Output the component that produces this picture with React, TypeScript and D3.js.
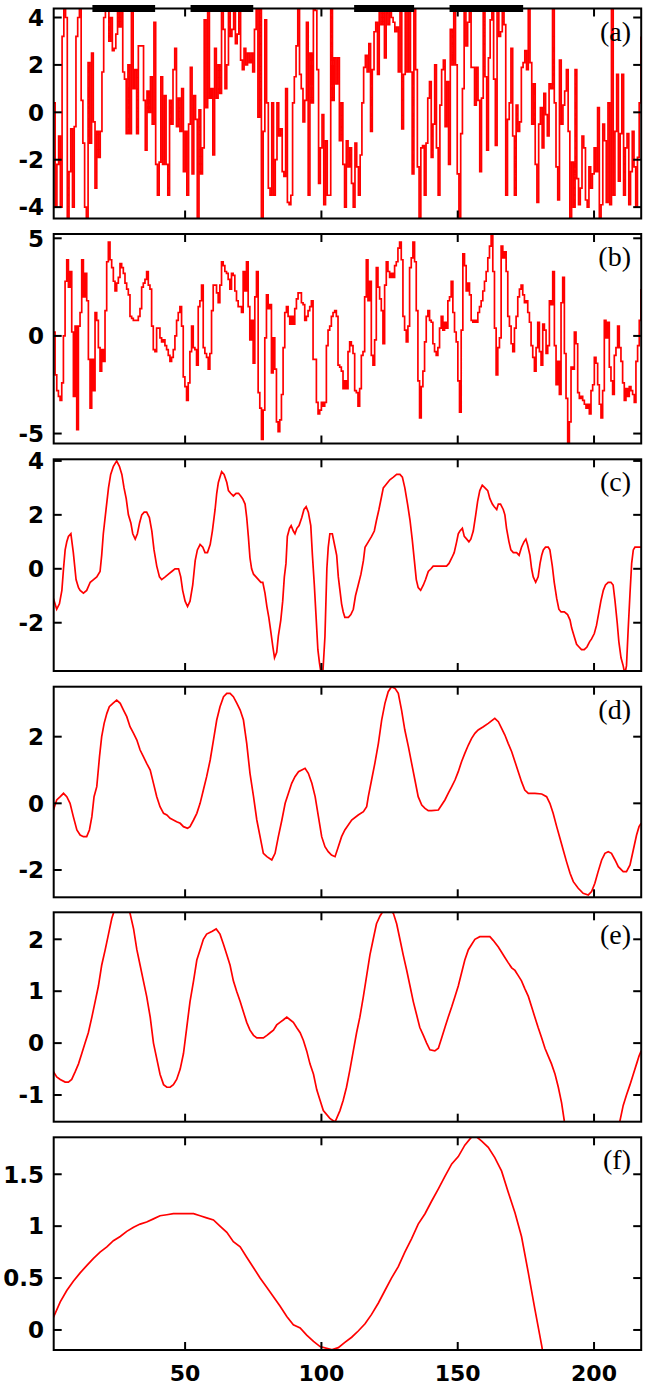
import React from 'react';
import * as d3 from 'd3';

// ---------- data ----------
const xTicks = [50, 100, 150, 200];

const aTicks = [-4, -2, 0, 2, 4];
const bTicks = [-5, 0, 5];
const cTicks = [-2, 0, 2, 4];
const dTicks = [-2, 0, 2];
const eTicks = [-1, 0, 1, 2];
const fTicks = [0, 0.5, 1, 1.5];

// black bars on top of panel (a): [start, end] in x units
const aBars: [number, number][] = [[16, 39], [52, 75], [112, 134], [147, 174]];

// panel (a): evenly sampled values
const seriesA = [
  0.4, -4.0, -2.2, -1.0, -4.0, 3.2, 4.4, 4.0, -4.5,
  -2.5, -0.7, -4.0, -0.6, 3.2, 4.0, 4.4, 0.5, -1.3, -4.0, -4.5,
  2.1, -1.3, 2.5, -0.4, -3.2, -0.8, -1.9, -0.8, 1.7,
  4.0, 4.4, 4.4, 3.0, 4.0, 2.6, 2.7, 3.3, 4.4, 3.6, 4.4, 1.7, 1.4,
  -0.9, 2.0, -0.9, 4.4, 1.0, 1.8, -0.9, 2.8, 2.8,
  2.8, 0.5, -1.6, 0.9, 0.0, 1.5, -0.5, 3.8, -2.2,
  -3.5, -2.1, 1.5, -2.2, 0.7, -2.2, -3.5, 0.5, -0.5,
  1.8, 2.7, -0.6, 0.6, -0.8, 1.0, -2.5, -0.8, -3.5, -0.5, 1.9, -2.6,
  0.7, -0.3, -4.5, 0.1, -2.6, -1.5, 3.9, 0.2, 4.4, 0.6, 1.0, -1.8, 2.7,
  0.6, 2.0, 0.8, 4.4, 3.5, 1.0, 2.0, 4.4, 3.2, 3.5, 4.4, 2.9, 3.3,
  4.4, 2.2, 1.8, 2.7, 2.0, 2.5, 2.1, 2.5, 1.7, 3.5, 4.4,
  -0.2, 4.4, -4.5, -0.8, 3.9, 0.4, -3.2, -3.5, 0.4, -3.5, -2.0,
  0.4, -1.0, -0.7, -2.5, -2.7, 1.0, -3.8, -3.9, -3.5, 0.4, 1.5, 2.8,
  4.4, 1.6, 1.0, -0.4, 0.5, 3.8, -3.5, 2.5, 0.4, 4.4, 4.3, 1.8, -3.0, -1.5,
  -0.1, -3.9, -1.2, -3.5, -3.5,
  4.4, 0.5, 2.3, 1.2, 2.3, -1.2, 0.4, -2.2, -4.0,
  -1.2, -2.3, -1.5, -3.0, -4.0, -1.3, -2.3, -3.5, -1.8, 0.4, 1.9,
  2.4, 1.7, 2.9, -0.8, 1.8, 3.4, 3.8, 1.6, 4.4, 3.7, 4.4, 2.3,
  4.2, 3.7, 4.4, 4.0, 3.8, 3.4, 3.6, 1.7, 4.4, -0.7, 1.6, 4.4,
  1.7, 4.4, 1.7, -2.6, 4.4, 1.8, -2.3, -4.5, -1.5, -1.4, -3.5,
  -1.3, 0.6, 1.3, -1.9, -0.5, 2.0, -1.5, -3.5, 0.3, 1.8, 2.2, -0.6,
  1.3, -2.2, 3.5, 2.0, 4.4, 2.0, -2.6, -4.5, -0.9, 1.0, 4.4, 2.8,
  3.8, 4.4, 1.9, 1.9, 0.3, 1.9, 0.5, -2.5, 0.6, 4.4, 1.5, -1.6, 2.3,
  3.9, 4.4, 1.4, -1.4, 4.4, 3.2, 3.4, 4.4, 3.7, -3.5, -0.3, 0.4, 2.7,
  -1.0, -3.5, 0.3, -0.8, -0.4, 1.9, 2.1, 2.6, 1.8, 4.4, 2.1, -0.5, 1.2,
  -2.2, -3.8, -0.5, 0.2, -1.5, 0.8, -0.1, -1.0, 1.2, 1.0, 4.4, 0.4,
  -2.3, -3.7, 2.2, -0.5, 0.3, 0.9, 1.8, -0.8, -4.5, -2.1, -4.0, 1.8, -2.8, -3.9,
  -3.2, -1.0, -1.5, -3.7, -4.0, -2.3, -3.2, -2.6, -1.5, -2.5, 0.2, -4.5,
  -3.9, -0.5, -1.2, -3.8, 0.4, -3.9, 4.4, -3.5, -0.8, 1.6, -2.9, -0.9,
  1.6, -3.5, -1.5, -0.9, -3.9, -2.5, -0.8, -2.3, -4.0, -1.9, 0.4, 3.2,
];

// panel (b): evenly sampled values
const seriesB = [
  0.2, -2.0, -2.8, -3.1, -3.3, -2.4, 0.0, 2.8, 3.9, 2.5, 3.3, 0.2, -3.1, 0.5, -4.8, 0.5,
  1.2, 3.9, 2.0, 3.2, 1.8, -1.2, -3.7, -1.2, -2.8, 1.2, 0.8, -0.6, -1.8, -0.7, -1.3, 1.3,
  3.8, 4.8, 3.9, 3.5, 2.8, 2.3, 2.7, 3.0, 3.7, 3.5, 3.2, 2.7, 2.4, 2.1, 1.0, 0.9,
  0.8, 0.8, 0.8, 1.0, 1.4, 2.5, 2.7, 2.9, 3.3, 2.6, 2.4, 0.5, -0.7, -0.8, 0.4, 0.4,
  -0.1, -0.3, -0.2, -0.5, -0.7, -1.0, -1.3, -1.1, -0.7, 0.0, 0.8, 1.2, 1.5, 0.5, -2.1, -2.6,
  -3.3, -2.4, -0.8, 0.5, -0.6, -0.7, -1.5, 1.5, 1.8, 2.6, -0.6, -0.9, -1.1, -1.7, -0.9, 1.3,
  2.6, 2.6, 2.2, 1.7, 2.6, 3.8, 3.6, 3.3, 3.2, 2.9, 2.4, 3.2, 3.1, 2.3, 1.8, 1.5,
  1.5, 1.2, 3.3, 2.3, 3.8, 1.5, -0.2, 0.8, -1.4, 2.0, 3.3, -2.9, -3.7, -5.3, -3.8, -0.1,
  2.1, 1.4, 1.6, -1.9, -0.1, -1.7, -4.4, -4.9, -4.3, -3.0, -0.6, 1.2, 1.5, 1.0, 0.6, 1.0,
  0.6, 1.4, 1.9, 2.2, 2.2, 1.7, 1.6, 0.8, 1.0, 1.3, 1.5, 1.8, -1.2, -1.2, -3.4, -4.0,
  -3.8, -3.4, -3.6, -3.4,
  -0.5, 0.3, 0.5, 1.0, 1.2, 1.3, 1.0, -1.5, -1.6, -1.8, -2.7, -2.3, -2.7, -0.8, -0.3, -0.5,
  -0.9, -2.8, -2.9, -3.6, -2.7, -1.0, -0.8, 2.0, 3.9, 1.8, 2.8, -1.0, -1.5, -0.2, 3.5, 2.5,
  1.9, 1.3, -0.4, 2.6, 3.8, 3.3, 3.0, 3.2, 3.0, 3.6, 3.8, 4.5, 4.8, 3.9, 1.0, 0.3,
  -0.3, 0.5, 3.5, 4.0, 4.8, 3.8, 1.3, -2.3, -4.2, -2.6, -1.8, -0.3, 1.0, 1.3, 0.8, 0.7,
  -0.4, -0.8, -1.0, -0.6, 0.4, 1.0, 0.3, 0.7, 0.4, 1.8, 2.0, 2.8, 1.2, 0.2, -0.3, -2.3,
  -3.9, 0.3, 4.2, 3.6, 2.3, 2.7, 2.1, 0.8, 0.7, 0.8, 0.7, 1.2, 1.5, 1.8, 2.3, 2.8,
  3.3, 4.0, 4.6, 5.2, 3.3, 0.4, -2.0, -0.6, -0.1, 4.6, 4.0, 4.3, 3.3, 1.0, 0.5, -0.4,
  -0.8, 0.4, 1.0, 2.0, 2.4, 2.6, 2.1, 1.7, 1.8, 1.2, 0.7, -0.5, -1.1, -1.8, -0.6, 0.7,
  -0.8, -1.5, 0.6, 0.3, -0.9, -0.5, 1.8, 1.6, 3.3, -0.5, -2.5, -1.3, -3.0, 1.7, 3.0, -0.9,
  -3.2, -5.5, -4.4, -1.6, -1.7, 0.2, -0.4, -2.9, -3.2, -3.1, -3.3, -3.5, -3.7, -3.5, -4.0, -2.8,
  -2.5, -1.1, -1.4, -2.5, -3.5, -4.2, -2.8, 0.8, -0.1, 0.7, -1.6, -2.3, -3.0, -1.0, -0.6, 0.5,
  -0.6, -1.3, -2.4, -3.3, -2.7, -3.1, -2.6, -2.8, -3.0, -3.4, -1.3, -0.5, 0.8, 2.4,
];

// panels (c)-(f): [x, value] readings
const seriesC: [number, number][] = [
  [1.7, -1.1], [2.9, -1.5], [3.9, -1.3], [4.8, -0.8], [5.4, 0], [6.0, 0.7], [6.6, 1.0], [7.2, 1.2],
  [8.1, 1.3], [9.0, 0.6], [10.0, -0.4], [10.9, -0.7], [11.5, -0.8], [12.7, -0.9], [13.9, -0.8],
  [15.2, -0.5], [16.4, -0.4], [17.6, -0.3], [18.8, -0.1], [19.4, 0.5], [20.0, 1.3], [21.0, 2.2],
  [21.9, 3.0], [22.7, 3.5], [23.7, 3.8], [24.9, 4.0], [25.9, 3.8], [26.8, 3.5], [27.6, 3.0],
  [28.4, 2.6], [29.2, 2.0], [30.1, 1.7], [30.8, 1.3], [31.7, 1.1], [32.5, 1.3], [33.3, 1.7],
  [34.1, 2.0], [35.0, 2.1], [35.9, 2.1], [36.9, 1.9], [37.8, 1.4], [38.6, 0.7], [39.6, 0.1],
  [40.6, -0.3], [41.4, -0.4], [42.7, -0.3], [43.9, -0.2], [45.1, -0.1], [46.3, 0], [47.6, 0],
  [48.4, -0.3], [49.1, -0.8], [50.0, -1.2], [50.9, -1.4], [51.8, -1.2], [52.8, -0.6], [53.7, 0.3],
  [54.5, 0.7], [55.5, 0.9], [56.5, 0.8], [57.3, 0.6], [58.2, 0.6], [59.2, 0.9], [60.0, 1.4],
  [61.0, 2.2], [61.6, 2.8], [62.2, 3.2], [62.8, 3.4], [63.4, 3.6], [64.3, 3.5], [65.3, 3.2],
  [65.9, 2.9], [66.7, 2.8], [67.7, 2.7], [68.7, 2.8], [69.6, 2.8], [70.4, 2.7], [71.1, 2.6],
  [72.0, 2.4], [72.6, 1.9], [73.2, 1.2], [73.8, 0.4], [74.4, 0], [75.1, -0.2], [76.0, -0.3],
  [76.9, -0.4], [77.8, -0.5], [78.5, -0.5], [79.3, -0.9], [80.0, -1.4], [80.7, -1.8], [81.4, -2.3],
  [82.2, -2.9], [82.8, -3.3], [83.6, -3.1], [84.2, -2.5], [85.1, -1.9], [85.8, -1.2], [86.4, -0.3],
  [87.0, 0.2], [87.5, 1.2], [88.3, 1.5], [88.9, 1.6], [89.7, 1.4], [90.3, 1.3], [91.0, 1.5],
  [91.8, 1.6], [92.8, 1.9], [93.6, 2.2], [94.4, 2.3], [95.2, 2.1], [96.1, 1.6], [96.7, 0.5],
  [97.4, -0.6], [98.0, -1.7], [98.7, -3.0], [99.3, -3.5], [99.9, -3.9], [100.5, -3.9],
  [101.3, -2.5], [102.0, 0.0], [102.5, 0.8], [103.1, 1.3], [104.0, 1.3], [105.0, 0.8], [105.6, 0.5],
  [106.2, -0.3], [106.8, -0.8], [107.4, -1.3], [108.0, -1.6], [108.6, -1.8], [109.9, -1.8],
  [110.8, -1.7], [111.7, -1.5], [112.5, -1.0], [113.5, -0.6], [114.5, -0.2], [115.4, 0.3],
  [116.0, 0.8], [117.2, 1.0], [118.4, 1.2], [119.4, 1.4], [120.2, 1.8], [121.1, 2.2], [122.1, 2.7],
  [122.7, 3.0], [123.5, 3.1], [124.3, 3.2], [125.1, 3.3], [126.4, 3.4], [127.6, 3.5], [128.8, 3.5],
  [129.7, 3.4], [130.6, 3.0], [131.6, 2.4], [132.5, 1.8], [133.3, 1.1], [134.1, 0.3], [134.8, -0.4],
  [135.5, -0.7], [136.4, -0.8], [137.4, -0.6], [138.2, -0.4], [139.2, -0.1], [140.2, 0.0],
  [141.0, 0.1], [142.3, 0.1], [143.5, 0.1], [144.7, 0.1], [145.9, 0.1], [146.8, 0.2], [147.8, 0.4],
  [148.7, 0.6], [149.6, 1.0], [150.2, 1.3], [150.8, 1.4], [151.7, 1.5], [152.4, 1.2], [153.3, 1.1],
  [154.1, 1.0], [154.8, 1.1], [155.7, 1.4], [156.6, 2.0], [157.3, 2.5], [158.1, 2.9], [159.0, 3.1],
  [160.0, 3.0], [161.0, 2.9], [161.8, 2.6], [162.7, 2.4], [163.4, 2.3], [164.3, 2.2], [164.9, 2.4],
  [165.7, 2.4], [166.7, 2.2], [167.3, 2.0], [167.9, 1.5], [168.8, 1.0], [169.5, 0.7], [170.4, 0.6],
  [171.6, 0.6], [172.5, 0.5], [173.4, 0.8], [174.3, 1.0], [175.0, 1.1], [175.6, 0.9], [176.5, 0.5],
  [177.1, 0.0], [177.7, -0.3], [178.6, -0.5], [179.5, -0.3], [180.2, 0.2], [180.8, 0.5],
  [181.4, 0.7], [182.2, 0.8], [183.2, 0.8], [183.8, 0.7], [184.7, 0.1], [185.4, -0.5],
  [186.3, -1.1], [187.1, -1.5], [187.9, -1.6], [189.1, -1.6], [190.3, -1.7], [191.2, -1.9],
  [191.8, -2.2], [192.7, -2.5], [193.6, -2.8], [194.5, -2.9], [195.4, -3.0], [196.4, -3.0],
  [197.4, -2.9], [198.4, -2.7], [199.1, -2.6], [200.1, -2.4], [200.9, -2.1], [201.8, -1.6],
  [202.5, -1.2], [203.4, -0.8], [204.2, -0.6], [205.2, -0.5], [206.2, -0.5], [207.0, -0.6],
  [207.7, -1.2], [208.5, -2.0], [209.1, -2.7], [209.9, -3.3], [210.7, -3.6], [211.3, -3.9],
  [211.9, -3.6], [212.5, -2.3], [213.2, -0.9], [213.8, 0.2], [214.4, 0.7], [215.0, 0.8],
  [216.2, 0.8], [217.3, 0.8],
];

const seriesD: [number, number][] = [
  [1.7, -0.2], [2.9, 0.1], [4.2, 0.2], [5.4, 0.3], [6.6, 0.2], [7.8, 0.0], [9.0, -0.4], [10.3, -0.8],
  [11.5, -0.95], [12.7, -1.0], [13.9, -1.0], [14.9, -0.8], [15.8, -0.4], [16.6, 0.2], [17.6, 0.5],
  [18.6, 1.4], [19.4, 2.0], [20.3, 2.4], [21.3, 2.7], [22.2, 2.9], [23.5, 3.0], [24.9, 3.1],
  [26.2, 3.0], [27.4, 2.8], [28.6, 2.6], [29.8, 2.3], [31.1, 2.1], [32.3, 1.9], [33.5, 1.6],
  [34.7, 1.4], [35.9, 1.2], [37.2, 1.0], [38.4, 0.6], [39.6, 0.2], [40.8, -0.1], [42.1, -0.3],
  [43.3, -0.35], [44.5, -0.45], [45.7, -0.5], [46.9, -0.55], [48.2, -0.6], [49.4, -0.7],
  [50.9, -0.75], [51.8, -0.7], [53.1, -0.5], [54.3, -0.3], [55.5, 0.0], [56.7, 0.4], [57.9, 0.8],
  [59.2, 1.3], [60.4, 1.9], [61.6, 2.5], [62.8, 2.9], [64.1, 3.2], [65.3, 3.3], [66.5, 3.3],
  [67.7, 3.2], [69.0, 3.0], [70.2, 2.8], [71.4, 2.5], [72.6, 1.8], [73.8, 0.9], [75.1, 0.2],
  [76.3, -0.5], [77.5, -1.0], [78.7, -1.5], [80.0, -1.6], [81.8, -1.7], [83.0, -1.5], [84.2, -1.0],
  [85.5, -0.5], [86.7, 0.0], [87.9, 0.3], [89.1, 0.6], [90.3, 0.8], [91.6, 0.95], [92.8, 1.0],
  [94.0, 1.05], [95.2, 0.9], [96.5, 0.6], [97.7, 0.2], [98.9, -0.4], [100.1, -1.0], [101.3, -1.3],
  [102.5, -1.45], [103.7, -1.55], [105.0, -1.6], [106.2, -1.3], [107.4, -1.0], [108.6, -0.8],
  [111.1, -0.5], [113.5, -0.35], [115.4, -0.25], [116.6, -0.1], [117.2, 0.2], [118.4, 0.7],
  [119.6, 1.2], [120.9, 1.8], [122.1, 2.5], [123.3, 3.0], [124.5, 3.35], [125.7, 3.5],
  [127.0, 3.45], [128.2, 3.3], [129.4, 2.8], [130.6, 2.2], [131.9, 1.7], [133.1, 1.2],
  [134.3, 0.7], [135.5, 0.2], [136.8, -0.05], [138.0, -0.15], [139.2, -0.22], [140.4, -0.22],
  [142.9, -0.2], [144.1, -0.05], [145.3, 0.1], [146.5, 0.3], [147.8, 0.5], [149.0, 0.7],
  [150.2, 0.95], [151.4, 1.25], [152.6, 1.5], [153.9, 1.75], [155.1, 1.95], [156.3, 2.1],
  [157.5, 2.2], [159.4, 2.3], [161.2, 2.4], [163.6, 2.55], [164.9, 2.45], [166.1, 2.25],
  [167.3, 2.05], [168.5, 1.8], [169.8, 1.55], [171.0, 1.25], [172.2, 0.95], [173.4, 0.65],
  [174.6, 0.4], [175.9, 0.3], [178.3, 0.3], [180.8, 0.28], [182.6, 0.2], [183.8, 0.0],
  [185.0, -0.3], [186.3, -0.7], [187.5, -1.05], [188.7, -1.4], [189.9, -1.75], [191.2, -2.1],
  [192.4, -2.35], [194.2, -2.55], [196.0, -2.7], [197.9, -2.75], [199.1, -2.65], [200.3, -2.4],
  [201.5, -2.05], [202.8, -1.7], [204.0, -1.5], [205.2, -1.45], [206.4, -1.5], [207.7, -1.7],
  [208.9, -1.9], [210.7, -2.05], [211.9, -2.05], [213.2, -1.85], [214.4, -1.4], [215.6, -0.95],
  [216.5, -0.7], [217.3, -0.6],
];

const seriesE: [number, number][] = [
  [1.7, -0.55], [2.9, -0.65], [4.2, -0.7], [6.0, -0.75], [7.2, -0.75], [8.4, -0.7], [9.7, -0.55],
  [10.9, -0.4], [12.1, -0.2], [13.3, 0.0], [14.5, 0.2], [15.8, 0.5], [17.0, 0.8], [18.2, 1.1],
  [19.4, 1.5], [20.7, 1.8], [21.9, 2.1], [23.1, 2.4], [24.3, 2.6], [26.2, 2.75], [28.0, 2.7],
  [29.8, 2.5], [31.1, 2.2], [32.3, 1.8], [33.5, 1.5], [34.7, 1.2], [35.9, 0.9], [37.2, 0.5],
  [38.4, 0.0], [39.6, -0.3], [40.8, -0.6], [42.1, -0.8], [43.3, -0.85], [44.5, -0.85], [45.7, -0.8],
  [46.9, -0.7], [48.2, -0.5], [49.4, -0.2], [50.6, 0.3], [51.8, 0.8], [53.1, 1.2], [54.3, 1.6],
  [55.5, 1.8], [56.7, 2.0], [57.9, 2.1], [59.8, 2.15], [61.4, 2.2], [62.8, 2.1], [64.1, 1.9],
  [65.3, 1.7], [66.5, 1.5], [67.7, 1.2], [68.9, 1.0], [70.2, 0.8], [71.4, 0.6], [72.6, 0.4],
  [73.8, 0.25], [75.1, 0.15], [76.3, 0.1], [78.7, 0.1], [80.0, 0.15], [81.2, 0.2], [82.4, 0.25],
  [83.6, 0.35], [84.8, 0.4], [86.1, 0.45], [87.3, 0.5], [88.5, 0.45], [89.7, 0.4], [90.9, 0.3],
  [92.2, 0.2], [93.4, 0.05], [94.6, -0.15], [95.8, -0.4], [97.1, -0.6], [98.3, -0.9], [99.5, -1.1],
  [100.7, -1.3], [103.1, -1.45], [105.0, -1.52], [106.8, -1.3], [108.0, -1.1], [109.2, -0.85],
  [110.5, -0.5], [111.7, -0.15], [112.9, 0.2], [114.1, 0.5], [115.4, 0.9], [116.6, 1.3],
  [117.8, 1.7], [119.0, 2.0], [120.2, 2.3], [121.5, 2.45], [122.7, 2.55], [124.5, 2.6],
  [126.4, 2.5], [127.6, 2.3], [128.8, 2.0], [130.0, 1.7], [131.3, 1.4], [132.5, 1.1], [133.7, 0.8],
  [134.9, 0.55], [136.1, 0.3], [137.4, 0.15], [138.6, 0.0], [139.8, -0.13], [141.6, -0.15],
  [142.9, -0.1], [144.1, 0.1], [145.3, 0.3], [146.5, 0.5], [147.8, 0.7], [149.0, 0.9], [150.2, 1.1],
  [151.4, 1.35], [152.6, 1.6], [153.9, 1.8], [155.1, 1.9], [156.3, 2.0], [158.1, 2.05],
  [160.0, 2.05], [161.8, 2.05], [163.0, 1.98], [164.9, 1.85], [166.1, 1.75], [167.3, 1.65],
  [168.5, 1.55], [169.8, 1.45], [171.0, 1.4], [172.2, 1.3], [173.4, 1.2], [174.6, 1.05],
  [175.9, 0.9], [177.1, 0.7], [178.3, 0.5], [179.5, 0.3], [180.8, 0.1], [182.0, -0.1],
  [183.2, -0.25], [184.4, -0.4], [185.7, -0.6], [186.9, -0.85], [188.1, -1.15], [189.1, -1.5],
  [191.0, -1.9], [194.0, -2.3], [197.0, -2.4], [200.0, -2.3], [203.0, -2.1], [206.0, -1.8],
  [209.5, -1.5], [210.7, -1.2], [211.9, -1.0], [213.2, -0.8], [214.4, -0.6], [215.6, -0.4],
  [216.5, -0.25], [217.3, -0.15],
];

const seriesF: [number, number][] = [
  [1.7, 0.12], [4.2, 0.27], [6.6, 0.38], [9.0, 0.47], [11.5, 0.55], [13.9, 0.62], [16.4, 0.69],
  [18.8, 0.75], [21.3, 0.8], [23.7, 0.86], [26.2, 0.9], [28.6, 0.95], [31.1, 0.99], [33.5, 1.02],
  [35.9, 1.04], [38.4, 1.07], [40.8, 1.1], [43.3, 1.11], [45.7, 1.12], [49.4, 1.12], [53.1, 1.12],
  [55.5, 1.1], [57.9, 1.08], [60.4, 1.06], [62.8, 1.0], [65.3, 0.94], [67.7, 0.85], [70.2, 0.8],
  [72.6, 0.7], [75.1, 0.6], [77.5, 0.5], [80.0, 0.41], [82.4, 0.32], [84.8, 0.23], [87.3, 0.13],
  [89.7, 0.05], [92.2, 0.02], [94.6, -0.05], [97.1, -0.11], [99.5, -0.16], [103.7, -0.19],
  [106.2, -0.17], [108.6, -0.12], [111.1, -0.07], [113.5, -0.01], [116.0, 0.06], [118.4, 0.15],
  [120.9, 0.26], [123.3, 0.38], [125.7, 0.5], [128.2, 0.61], [130.6, 0.75], [133.1, 0.88],
  [135.5, 1.02], [138.0, 1.12], [140.4, 1.24], [142.9, 1.36], [145.3, 1.48], [147.8, 1.6],
  [150.2, 1.67], [152.6, 1.78], [155.1, 1.86], [156.9, 1.86], [158.8, 1.82], [161.2, 1.76],
  [163.6, 1.66], [166.1, 1.53], [168.5, 1.33], [171.0, 1.13], [173.4, 0.9], [175.9, 0.55],
  [178.3, 0.2], [180.8, -0.15], [183.0, -0.5], [186.0, -0.9], [190.0, -1.4],
];

// ---------- layout ----------
const W = 650;
const H = 1386;
const X0 = 53.7;
const X1 = 641.2;
const xScale = d3.scaleLinear().domain([1.8, 217.3]).range([X0, X1]);

const uniform = (vals: number[]): [number, number][] => {
  const idx = d3.scaleLinear().domain([0, vals.length - 1]).range([1.7, 217.2]);
  return vals.map((v, i) => [idx(i), v]);
};

type Panel = {
  key: string;
  label: string;
  top: number;
  bottom: number;
  domain: [number, number];
  ticks: number[];
  pts: [number, number][];
  curve: any;
};

const panels: Panel[] = [
  { key: 'a', label: '(a)', top: 8.5, bottom: 218.5, domain: [-4.48, 4.38], ticks: aTicks, pts: uniform(seriesA), curve: d3.curveStepAfter },
  { key: 'b', label: '(b)', top: 234, bottom: 443.5, domain: [-5.51, 5.22], ticks: bTicks, pts: uniform(seriesB), curve: d3.curveStepAfter },
  { key: 'c', label: '(c)', top: 459.3, bottom: 671, domain: [-3.79, 4.06], ticks: cTicks, pts: seriesC, curve: d3.curveLinear },
  { key: 'd', label: '(d)', top: 686.7, bottom: 897.3, domain: [-2.82, 3.5], ticks: dTicks, pts: seriesD, curve: d3.curveLinear },
  { key: 'e', label: '(e)', top: 912.3, bottom: 1121.7, domain: [-1.514, 2.52], ticks: eTicks, pts: seriesE, curve: d3.curveLinear },
  { key: 'f', label: '(f)', top: 1137.3, bottom: 1350, domain: [-0.193, 1.856], ticks: fTicks, pts: seriesF, curve: d3.curveLinear },
];

const TICK = 8;
const tickFont = '"DejaVu Sans", sans-serif';

function PanelView({ p, last }: { p: Panel; last: boolean }) {
  const y = d3.scaleLinear().domain(p.domain).range([p.bottom, p.top]);
  const line = d3
    .line<[number, number]>()
    .x((d) => xScale(d[0]))
    .y((d) => y(d[1]))
    .curve(p.curve);
  const clipId = `clip-${p.key}`;
  return (
    <g>
      <defs>
        <clipPath id={clipId}>
          <rect x={X0} y={p.top} width={X1 - X0} height={p.bottom - p.top} />
        </clipPath>
      </defs>
      <path d={line(p.pts) || ''} fill="none" stroke="#ff0000" strokeWidth={1.7} clipPath={`url(#${clipId})`} />
      <rect x={X0} y={p.top} width={X1 - X0} height={p.bottom - p.top} fill="none" stroke="#000" strokeWidth={2} />
      {p.ticks.map((t) => (
        <g key={`y${t}`}>
          <line x1={X0} x2={X0 + TICK} y1={y(t)} y2={y(t)} stroke="#000" strokeWidth={2} />
          <line x1={X1 - TICK} x2={X1} y1={y(t)} y2={y(t)} stroke="#000" strokeWidth={2} />
          <text
            x={44}
            y={y(t)}
            dy="0.36em"
            textAnchor="end"
            fontFamily={tickFont}
            fontWeight="bold"
            fontSize={23}
            fill="#000"
          >
            {String(t)}
          </text>
        </g>
      ))}
      {xTicks.map((t) => (
        <g key={`x${t}`}>
          <line x1={xScale(t)} x2={xScale(t)} y1={p.top} y2={p.top + TICK} stroke="#000" strokeWidth={2} />
          <line x1={xScale(t)} x2={xScale(t)} y1={p.bottom - TICK} y2={p.bottom} stroke="#000" strokeWidth={2} />
          {last && (
            <text
              x={xScale(t)}
              y={1381}
              textAnchor="middle"
              fontFamily={tickFont}
              fontWeight="bold"
              fontSize={22}
              fill="#000"
            >
              {String(t)}
            </text>
          )}
        </g>
      ))}
      {p.key === 'a' &&
        aBars.map(([s, e]) => (
          <rect key={`bar${s}`} x={xScale(s)} y={p.top - 3.5} width={xScale(e) - xScale(s)} height={7} fill="#000" />
        ))}
      <text
        x={631}
        y={p.top + 32}
        textAnchor="end"
        fontFamily='"Liberation Serif", "DejaVu Serif", serif'
        fontSize={28}
        fill="#000"
      >
        {p.label}
      </text>
    </g>
  );
}

export default function App() {
  return (
    <svg
      width={W}
      height={H}
      viewBox={`0 0 ${W} ${H}`}
      style={{ position: 'absolute', left: 0, top: 0, background: '#fff' }}
    >
      <rect x={0} y={0} width={W} height={H} fill="#fff" />
      {panels.map((p, i) => (
        <PanelView key={p.key} p={p} last={i === panels.length - 1} />
      ))}
    </svg>
  );
}
